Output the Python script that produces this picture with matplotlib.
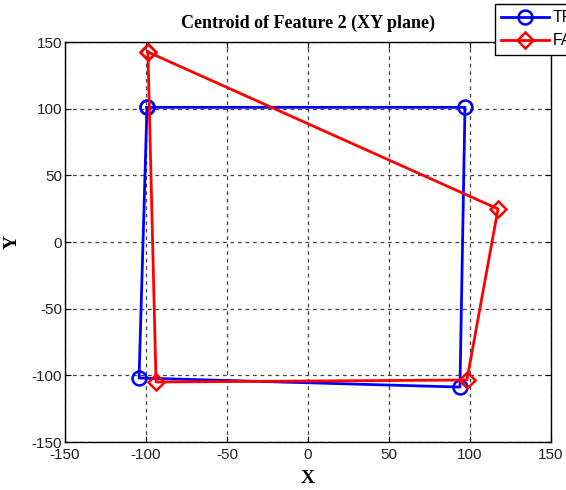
import matplotlib
matplotlib.use("Agg")
import matplotlib.pyplot as plt

plt.rcParams["axes.unicode_minus"] = False

# Data
true_x = [-99.4, 96.9, 93.8, -104.3, -99.4]
true_y = [101.0, 101.0, -108.8, -102.0, 101.0]
false_x = [-98.8, 117.3, 98.1, -93.8, -98.8]
false_y = [142.5, 24.8, -103.5, -105.0, 142.5]
series_labels = ["TRUE", "FALSE"]
ticks = [-150, -100, -50, 0, 50, 100, 150]

fig = plt.figure(figsize=(5.66, 4.9), dpi=100)
ax = fig.add_axes([65/566, 1-442/490, 486/566, 400/490])

l1, = ax.plot(true_x, true_y, color="#0000ff", lw=2.0, marker="o", ms=10,
              mfc="none", mew=1.8, label=series_labels[0])
l2, = ax.plot(false_x, false_y, color="#ff0000", lw=2.0, marker="D", ms=8.5,
              mfc="none", mew=1.8, label=series_labels[1])

ax.set_xlim(-150, 150)
ax.set_ylim(-150, 150)
ax.set_xticks(ticks)
ax.set_yticks(ticks)
ax.grid(True, color="#444444", linestyle=(0, (3, 3)), linewidth=0.9)
ax.set_axisbelow(True)
for lab in ax.get_xticklabels() + ax.get_yticklabels():
    lab.set_fontfamily("Liberation Sans")
    lab.set_fontsize(11)
    lab.set_color("#222222")
ax.tick_params(direction="in", length=4, width=0.8, pad=2, top=True, right=True)
ax.tick_params(axis="x", pad=4)
for s in ax.spines.values():
    s.set_linewidth(1.0)

ax.set_title("Centroid of Feature 2 (XY plane)", family="Liberation Serif",
             weight="bold", fontsize=13, pad=10)
ax.set_xlabel("X", family="Liberation Serif", weight="bold", fontsize=14, labelpad=6)
ax.set_ylabel("Y", family="Liberation Serif", weight="bold", fontsize=14, labelpad=8)

leg = fig.legend(handles=[l1, l2], loc="upper left",
                 bbox_to_anchor=(495/566, 1-4/490), bbox_transform=fig.transFigure,
                 prop=dict(family="Liberation Sans", size=11.5), fancybox=False,
                 framealpha=1, edgecolor="black", handlelength=3.0,
                 borderpad=0.4, labelspacing=0.5, handletextpad=0.2,
                 borderaxespad=0)
leg.get_frame().set_linewidth(1.0)

fig.savefig("out.png", dpi=100)
